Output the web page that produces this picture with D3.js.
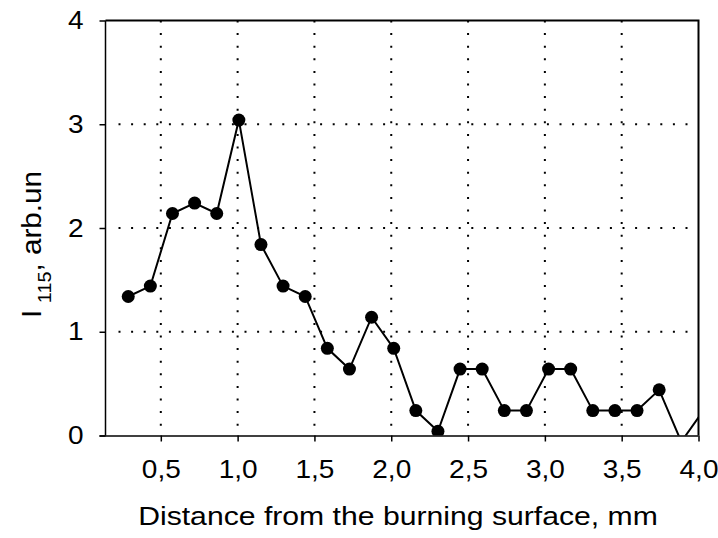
<!DOCTYPE html>
<html>
<head>
<meta charset="utf-8">
<script src="https://cdn.jsdelivr.net/npm/d3@7"></script>
<style>
	body { margin: 0; background: #fff; }
	svg { display: block; font-family: "Liberation Sans", Arial, sans-serif; }
	.axis path, .axis line { stroke: #000; stroke-width: 1.5; }
	.axis text { font-size: 25px; fill: #000; }
	.grid line { stroke: #000; stroke-width: 2; stroke-dasharray: 2,10.6; }
</style>
</head>
<body>
<svg width="718" height="538"></svg>
<script>
	// DATA
	var distance = [0.288, 0.432, 0.576, 0.720, 0.864, 1.008, 1.152, 1.296, 1.440, 1.584,
		1.728, 1.872, 2.016, 2.160, 2.304, 2.448, 2.592, 2.736, 2.880, 3.024,
		3.168, 3.312, 3.456, 3.600, 3.744, 3.888, 4.032];
	var intensity = [1.34, 1.44, 2.14, 2.24, 2.14, 3.04, 1.84, 1.44, 1.34, 0.84,
		0.64, 1.14, 0.84, 0.24, 0.04, 0.64, 0.64, 0.24, 0.24, 0.64,
		0.64, 0.24, 0.24, 0.24, 0.44, -0.06, 0.24];
	var xTicks = [0.5, 1.0, 1.5, 2.0, 2.5, 3.0, 3.5, 4.0];
	var yTicks = [0, 1, 2, 3, 4];

	var margin = { top: 20.5, right: 19.5, bottom: 102.5, left: 105.5 };
	var svg = d3.select('svg');
	var width = +svg.attr('width') - margin.left - margin.right;
	var height = +svg.attr('height') - margin.top - margin.bottom;

	var points = distance.map(function(d, i) { return { x: d, y: intensity[i] }; });

	var x = d3.scaleLinear().domain([0.14, 4.0]).range([0, width]);
	var y = d3.scaleLinear().domain([0, 4]).range([height, 0]);

	var comma = d3.formatLocale({ decimal: ',', thousands: ' ', grouping: [3], currency: ['', ''] });

	// text in the source is a bit wider than plain Arial
	function stretch(sel, k) {
		sel.each(function() {
			var w = this.getComputedTextLength();
			d3.select(this)
				.attr('textLength', w * k)
				.attr('lengthAdjust', 'spacingAndGlyphs');
		});
	}

	var g = svg.append('g')
		.attr('transform', 'translate(' + margin.left + ',' + margin.top + ')');

	svg.append('defs').append('clipPath').attr('id', 'plot')
		.append('rect').attr('width', width).attr('height', height);

	// grid
	g.append('g').attr('class', 'grid')
		.selectAll('line')
		.data(xTicks.filter(function(d) { return d < 4; }))
		.enter().append('line')
		.attr('x1', function(d) { return x(d); })
		.attr('x2', function(d) { return x(d); })
		.attr('y1', 0)
		.attr('y2', height);

	g.append('g').attr('class', 'grid')
		.selectAll('line')
		.data(yTicks.filter(function(d) { return d > 0 && d < 4; }))
		.enter().append('line')
		.attr('x1', 13)
		.attr('x2', width)
		.attr('y1', function(d) { return y(d); })
		.attr('y2', function(d) { return y(d); });

	// frame top & right
	g.append('path')
		.attr('d', 'M0,0H' + width + 'V' + height)
		.attr('fill', 'none')
		.attr('stroke', '#000')
		.attr('stroke-width', 2);

	// axes
	var xAxis = g.append('g').attr('class', 'axis axis--x')
		.attr('transform', 'translate(0,' + height + ')')
		.call(d3.axisBottom(x).tickValues(xTicks).tickSize(6).tickPadding(19)
			.tickFormat(comma.format('.1f')));
	xAxis.select('.domain').attr('d', 'M-6,0.5H' + width);
	stretch(xAxis.selectAll('text'), 1.12);

	var yAxis = g.append('g').attr('class', 'axis axis--y')
		.call(d3.axisLeft(y).tickValues(yTicks).tickSize(6).tickPadding(16)
			.tickFormat(d3.format('d')));
	yAxis.select('.domain').attr('d', 'M0,0V' + height);
	stretch(yAxis.selectAll('text'), 1.12);

	// line + markers
	var line = d3.line()
		.x(function(d) { return x(d.x); })
		.y(function(d) { return y(d.y); });

	var plot = g.append('g').attr('clip-path', 'url(#plot)');

	plot.append('path')
		.datum(points)
		.attr('fill', 'none')
		.attr('stroke', '#000')
		.attr('stroke-width', 2)
		.attr('d', line);

	plot.selectAll('circle')
		.data(points.filter(function(d) { return d.x <= 4 && d.y >= 0; }))
		.enter().append('circle')
		.attr('cx', function(d) { return x(d.x); })
		.attr('cy', function(d) { return y(d.y); })
		.attr('r', 6.5)
		.attr('fill', '#000');

	// axis titles
	var xl = svg.append('text')
		.attr('x', 398)
		.attr('y', 525)
		.attr('text-anchor', 'middle')
		.style('font-size', '26px')
		.text('Distance from the burning surface, mm');
	stretch(xl, 1.16);

	var yl = svg.append('text')
		.attr('transform', 'translate(41,318)rotate(-90)scale(1.1,1)')
		.attr('text-anchor', 'start')
		.style('font-size', '27px');
	yl.append('tspan').text('I');
	yl.append('tspan').attr('dx', 6).attr('dy', 9.5).style('font-size', '18px').text('115');
	yl.append('tspan').attr('dy', -9.5).text(', arb.un');
</script>
</body>
</html>
